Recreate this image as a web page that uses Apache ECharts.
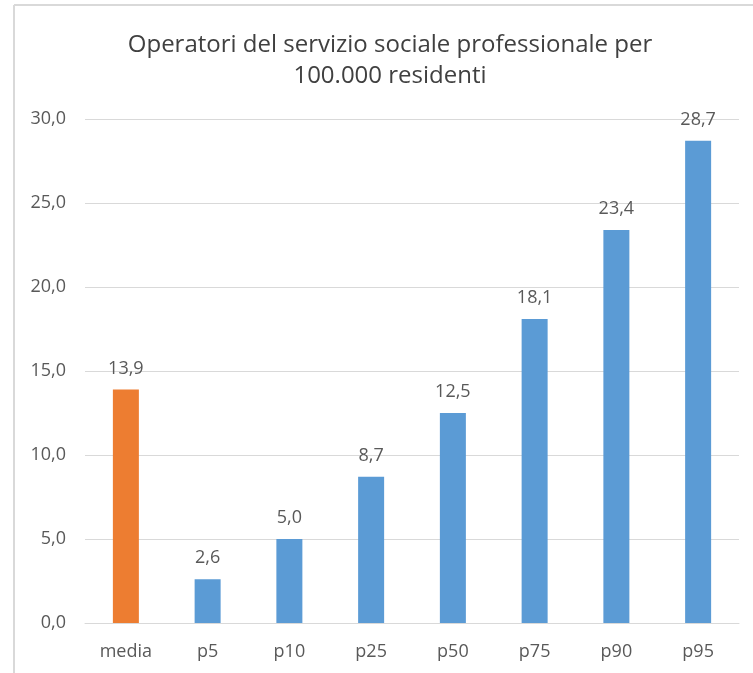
<!DOCTYPE html>
<html>
<head>
<meta charset="utf-8">
<script src="https://cdn.jsdelivr.net/npm/echarts@6/dist/echarts.min.js"></script>
<style>html,body{margin:0;padding:0;background:#fff}#c{width:753px;height:673px}</style>
</head>
<body>
<div id="c"></div>
<script>
const categories = ['media', 'p5', 'p10', 'p25', 'p50', 'p75', 'p90', 'p95'];
const values = [13.9, 2.6, 5.0, 8.7, 12.5, 18.1, 23.4, 28.7];
const barColors = ['#ED7D31', '#5B9BD5', '#5B9BD5', '#5B9BD5', '#5B9BD5', '#5B9BD5', '#5B9BD5', '#5B9BD5'];
const titleText = 'Operatori del servizio sociale professionale per\n100.000 residenti';

const fmt = v => v.toFixed(1).replace('.', ',');
const chart = echarts.init(document.getElementById('c'), null, {renderer: 'canvas'});
chart.setOption({
  animation: false,
  backgroundColor: '#fff',
  textStyle: {fontFamily: 'Open Sans'},
  graphic: [
    {type: 'line', shape: {x1: 14, y1: 5, x2: 14, y2: 673}, style: {stroke: '#d9d9d9', lineWidth: 2}},
    {type: 'line', shape: {x1: 14, y1: 5, x2: 753, y2: 5}, style: {stroke: '#d9d9d9', lineWidth: 2}}
  ],
  title: {
    text: titleText,
    left: 390,
    top: 30,
    padding: 0,
    textAlign: 'center',
    textStyle: {fontFamily: 'Open Sans', fontSize: 24, fontWeight: 'normal', color: '#404040', lineHeight: 31}
  },
  grid: {left: 85, right: 14, top: 119, bottom: 50, containLabel: false},
  xAxis: {
    type: 'category',
    data: categories,
    axisLine: {lineStyle: {color: '#d9d9d9'}},
    axisTick: {show: false},
    axisLabel: {color: '#595959', fontSize: 18, margin: 20, fontFamily: 'Open Sans'}
  },
  yAxis: {
    type: 'value',
    min: 0, max: 30, interval: 5,
    axisLine: {show: false},
    axisTick: {show: false},
    splitLine: {lineStyle: {color: '#d9d9d9'}},
    axisLabel: {color: '#595959', fontSize: 18, margin: 19, fontFamily: 'Open Sans', formatter: v => fmt(v)}
  },
  series: [{
    type: 'bar',
    data: values.map((v, i) => ({value: v, itemStyle: {color: barColors[i]}})),
    barWidth: 26,
    label: {show: true, position: 'top', distance: 12, color: '#595959', fontSize: 18, fontFamily: 'Open Sans', formatter: p => fmt(p.value)}
  }]
});
</script>
</body>
</html>
